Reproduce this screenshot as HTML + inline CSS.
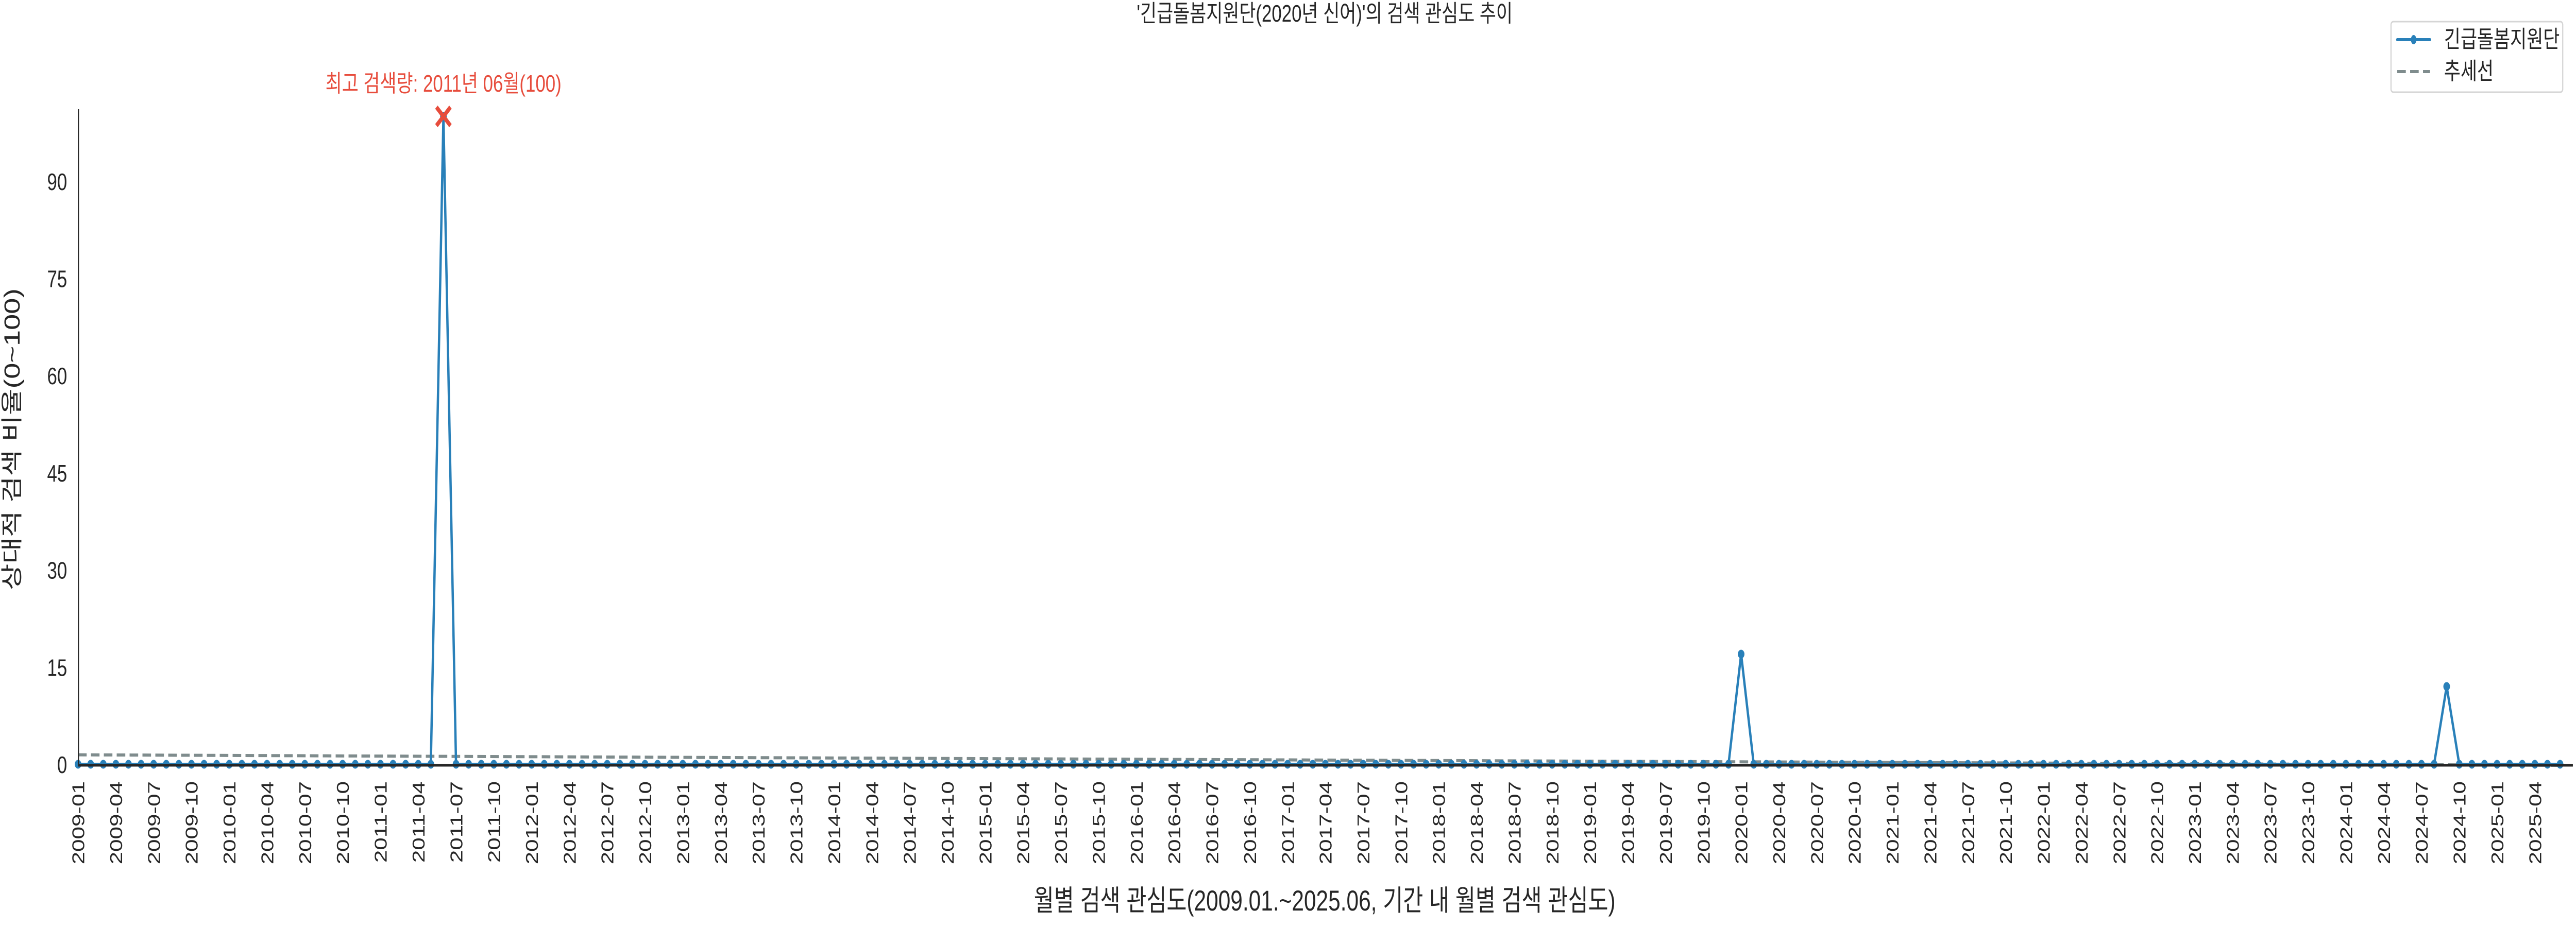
<!DOCTYPE html>
<html><head><meta charset="utf-8"><style>
html,body{margin:0;padding:0;background:#fff;width:100vw;height:100vh;overflow:hidden;}
svg{display:block;font-family:"Liberation Sans","Noto Sans CJK KR",sans-serif;overflow:hidden;width:100vw;height:100vh;}
</style></head><body>
<svg id="chart" viewBox="0 0 6600 1800" preserveAspectRatio="none" xmlns="http://www.w3.org/2000/svg">
<text x="3394" y="42" font-size="46" text-anchor="middle" fill="#262626">'긴급돌봄지원단(2020년 신어)'의 검색 관심도 추이</text>
<text x="3394" y="1768" font-size="56" text-anchor="middle" fill="#262626">월별 검색 관심도(2009.01.~2025.06, 기간 내 월별 검색 관심도)</text>
<text transform="translate(50,853) rotate(-90)" font-size="56" text-anchor="middle" fill="#262626">상대적 검색 비율(0~100)</text>
<g id="trend"></g>
<g id="series"></g>
<g id="xticks"></g>
<g id="yticks"></g>
<line x1="201" y1="212" x2="201" y2="1486" stroke="#262626" stroke-width="3"/>
<line x1="200" y1="1486" x2="6592" y2="1486" stroke="#262626" stroke-width="5"/>
<g id="annot"></g>
<g>
<rect x="6126" y="42" width="440" height="137" rx="6" fill="#fff" stroke="#d5d5d5" stroke-width="3"/>
<g>
<line x1="6142" y1="77" x2="6226" y2="77" stroke="#2980b9" stroke-width="6" stroke-linecap="round"/>
<ellipse cx="6184" cy="77" rx="7" ry="9" fill="#2980b9"/>
<text x="6262" y="92" font-size="46" fill="#262626">긴급돌봄지원단</text>
</g>
<g>
<line x1="6142" y1="139" x2="6226" y2="139" stroke="#7f8c8d" stroke-width="6" stroke-dasharray="22,11"/>
<text x="6262" y="154" font-size="46" fill="#262626">추세선</text>
</g>
</g>
</svg>
<script>
const startYear = 2009, nMonths = 198;
const spikeMonths = ["2011-06", "2020-01", "2024-09"];
const spikeValues = [100, 17, 12];
const yTicks = [0, 15, 30, 45, 60, 75, 90];
const peakLabel = "최고 검색량: 2011년 06월(100)";

const NS = "http://www.w3.org/2000/svg";
const X0 = 200, DX = 32.28, Y0 = 1484, DY = 12.58;
function xs(i){ return X0 + i*DX; }
function ys(v){ return Y0 - v*DY; }
function mk(tag, attrs, parent){ const e=document.createElementNS(NS,tag); for(const k in attrs) e.setAttribute(k, attrs[k]); parent.appendChild(e); return e; }
function lab(i){ const y=startYear+Math.floor(i/12), m=i%12+1; return y+"-"+(m<10?"0":"")+m; }

const labels = [], values = [];
for(let i=0;i<nMonths;i++){ labels.push(lab(i)); values.push(0); }
spikeMonths.forEach((m,k)=>{ const idx=labels.indexOf(m); if(idx>=0) values[idx]=spikeValues[k]; });

const yt = document.getElementById("yticks");
yTicks.forEach(v=>{
  const t = mk("text",{x:172,y:ys(v)+17,"font-size":46,"text-anchor":"end",fill:"#262626"},yt);
  
  
  t.textContent = v;
});
const xt = document.getElementById("xticks");
for(let i=0;i<nMonths;i+=3){
  const t = mk("text",{transform:`translate(${xs(i)+16},1517) rotate(-90)`,"font-size":44,"text-anchor":"end",fill:"#262626"},xt);
  
  
  t.textContent = labels[i];
}
let sx=0,sy=0,sxx=0,sxy=0;
values.forEach((v,i)=>{sx+=i;sy+=v;sxx+=i*i;sxy+=i*v;});
const n=values.length, b=(n*sxy-sx*sy)/(n*sxx-sx*sx), a=(sy-b*sx)/n;
const tr = mk("line",{x1:xs(0),y1:ys(a),x2:xs(n-1),y2:ys(a+b*(n-1)),stroke:"#7f8c8d","stroke-width":6,"stroke-dasharray":"22,11"},document.getElementById("trend"));


const sg = document.getElementById("series");
const pl = mk("polyline",{points:values.map((v,i)=>xs(i)+","+ys(v)).join(" "),fill:"none",stroke:"#2980b9","stroke-width":6,"stroke-linejoin":"round"},sg);


values.forEach((v,i)=>{
  const c = mk("circle",{cx:xs(i),cy:ys(v),r:8.5,fill:"#2980b9"},sg);
  
  
});
let pi=0; values.forEach((v,i)=>{ if(v>values[pi]) pi=i; });
const ag = document.getElementById("annot");
const px=xs(pi), py=ys(values[pi]);
const mkx = mk("path",{d:`M${px-18},${py-18}L${px+18},${py+18}M${px-18},${py+18}L${px+18},${py-18}`,stroke:"#e74c3c","stroke-width":9},ag);


const at = mk("text",{x:px,y:178,"font-size":46,"text-anchor":"middle",fill:"#e74c3c"},ag);


at.textContent = peakLabel;
</script>
</body></html>
